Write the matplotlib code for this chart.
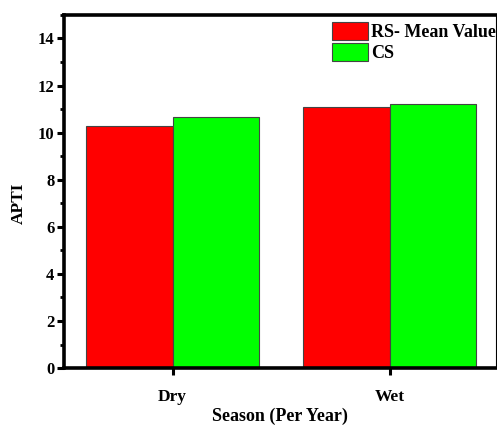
import matplotlib
matplotlib.use('Agg')
import matplotlib.pyplot as plt
import numpy as np
from matplotlib.ticker import MultipleLocator

plt.rcParams['font.family'] = 'Liberation Serif'
plt.rcParams['font.weight'] = 'bold'

seasons = ['Dry', 'Wet']
rs_mean = [10.30, 11.09]
cs_values = [10.67, 11.22]

BAR_W = 0.4

fig = plt.figure(figsize=(4.97, 4.26), dpi=100)
ax = fig.add_axes([0.129, 0.136, 0.869, 0.829])

x = np.arange(len(seasons))
ax.bar(x - BAR_W / 2, rs_mean, BAR_W, color='#ff0000', edgecolor='#444444',
       linewidth=0.8, label='RS- Mean Value')
ax.bar(x + BAR_W / 2, cs_values, BAR_W, color='#00ff00', edgecolor='#444444',
       linewidth=0.8, label='CS')

ax.set_xlim(-0.5, 1.49)
ax.set_ylim(0, 15)
ax.set_xticks(x)
ax.set_xticklabels(seasons)
ax.yaxis.set_major_locator(MultipleLocator(2))
ax.yaxis.set_minor_locator(MultipleLocator(1))

for side in ['left', 'top', 'bottom']:
    ax.spines[side].set_linewidth(2.6)
ax.spines['right'].set_linewidth(0.8)

ax.tick_params(axis='both', which='major', direction='out', length=5, width=2.2,
               labelsize=12)
ax.tick_params(axis='x', labelsize=12.5, pad=10)
ax.tick_params(axis='y', which='minor', direction='out', length=3, width=2.0)
ax.tick_params(axis='y', which='major', pad=2)

ax.set_xlabel('Season (Per Year)', fontsize=13, fontweight='bold', labelpad=2)
ax.set_ylabel('APTI', fontsize=12.5, fontweight='bold')
ax.yaxis.set_label_coords(-0.086, 0.467)

ax.legend(loc='upper left', bbox_to_anchor=(0.616, 0.985), frameon=False,
          fontsize=13, handlelength=2.0, handleheight=1.16, handletextpad=0.15,
          labelspacing=0.12, borderaxespad=0, borderpad=0.1)

fig.savefig('out.png', dpi=100)
